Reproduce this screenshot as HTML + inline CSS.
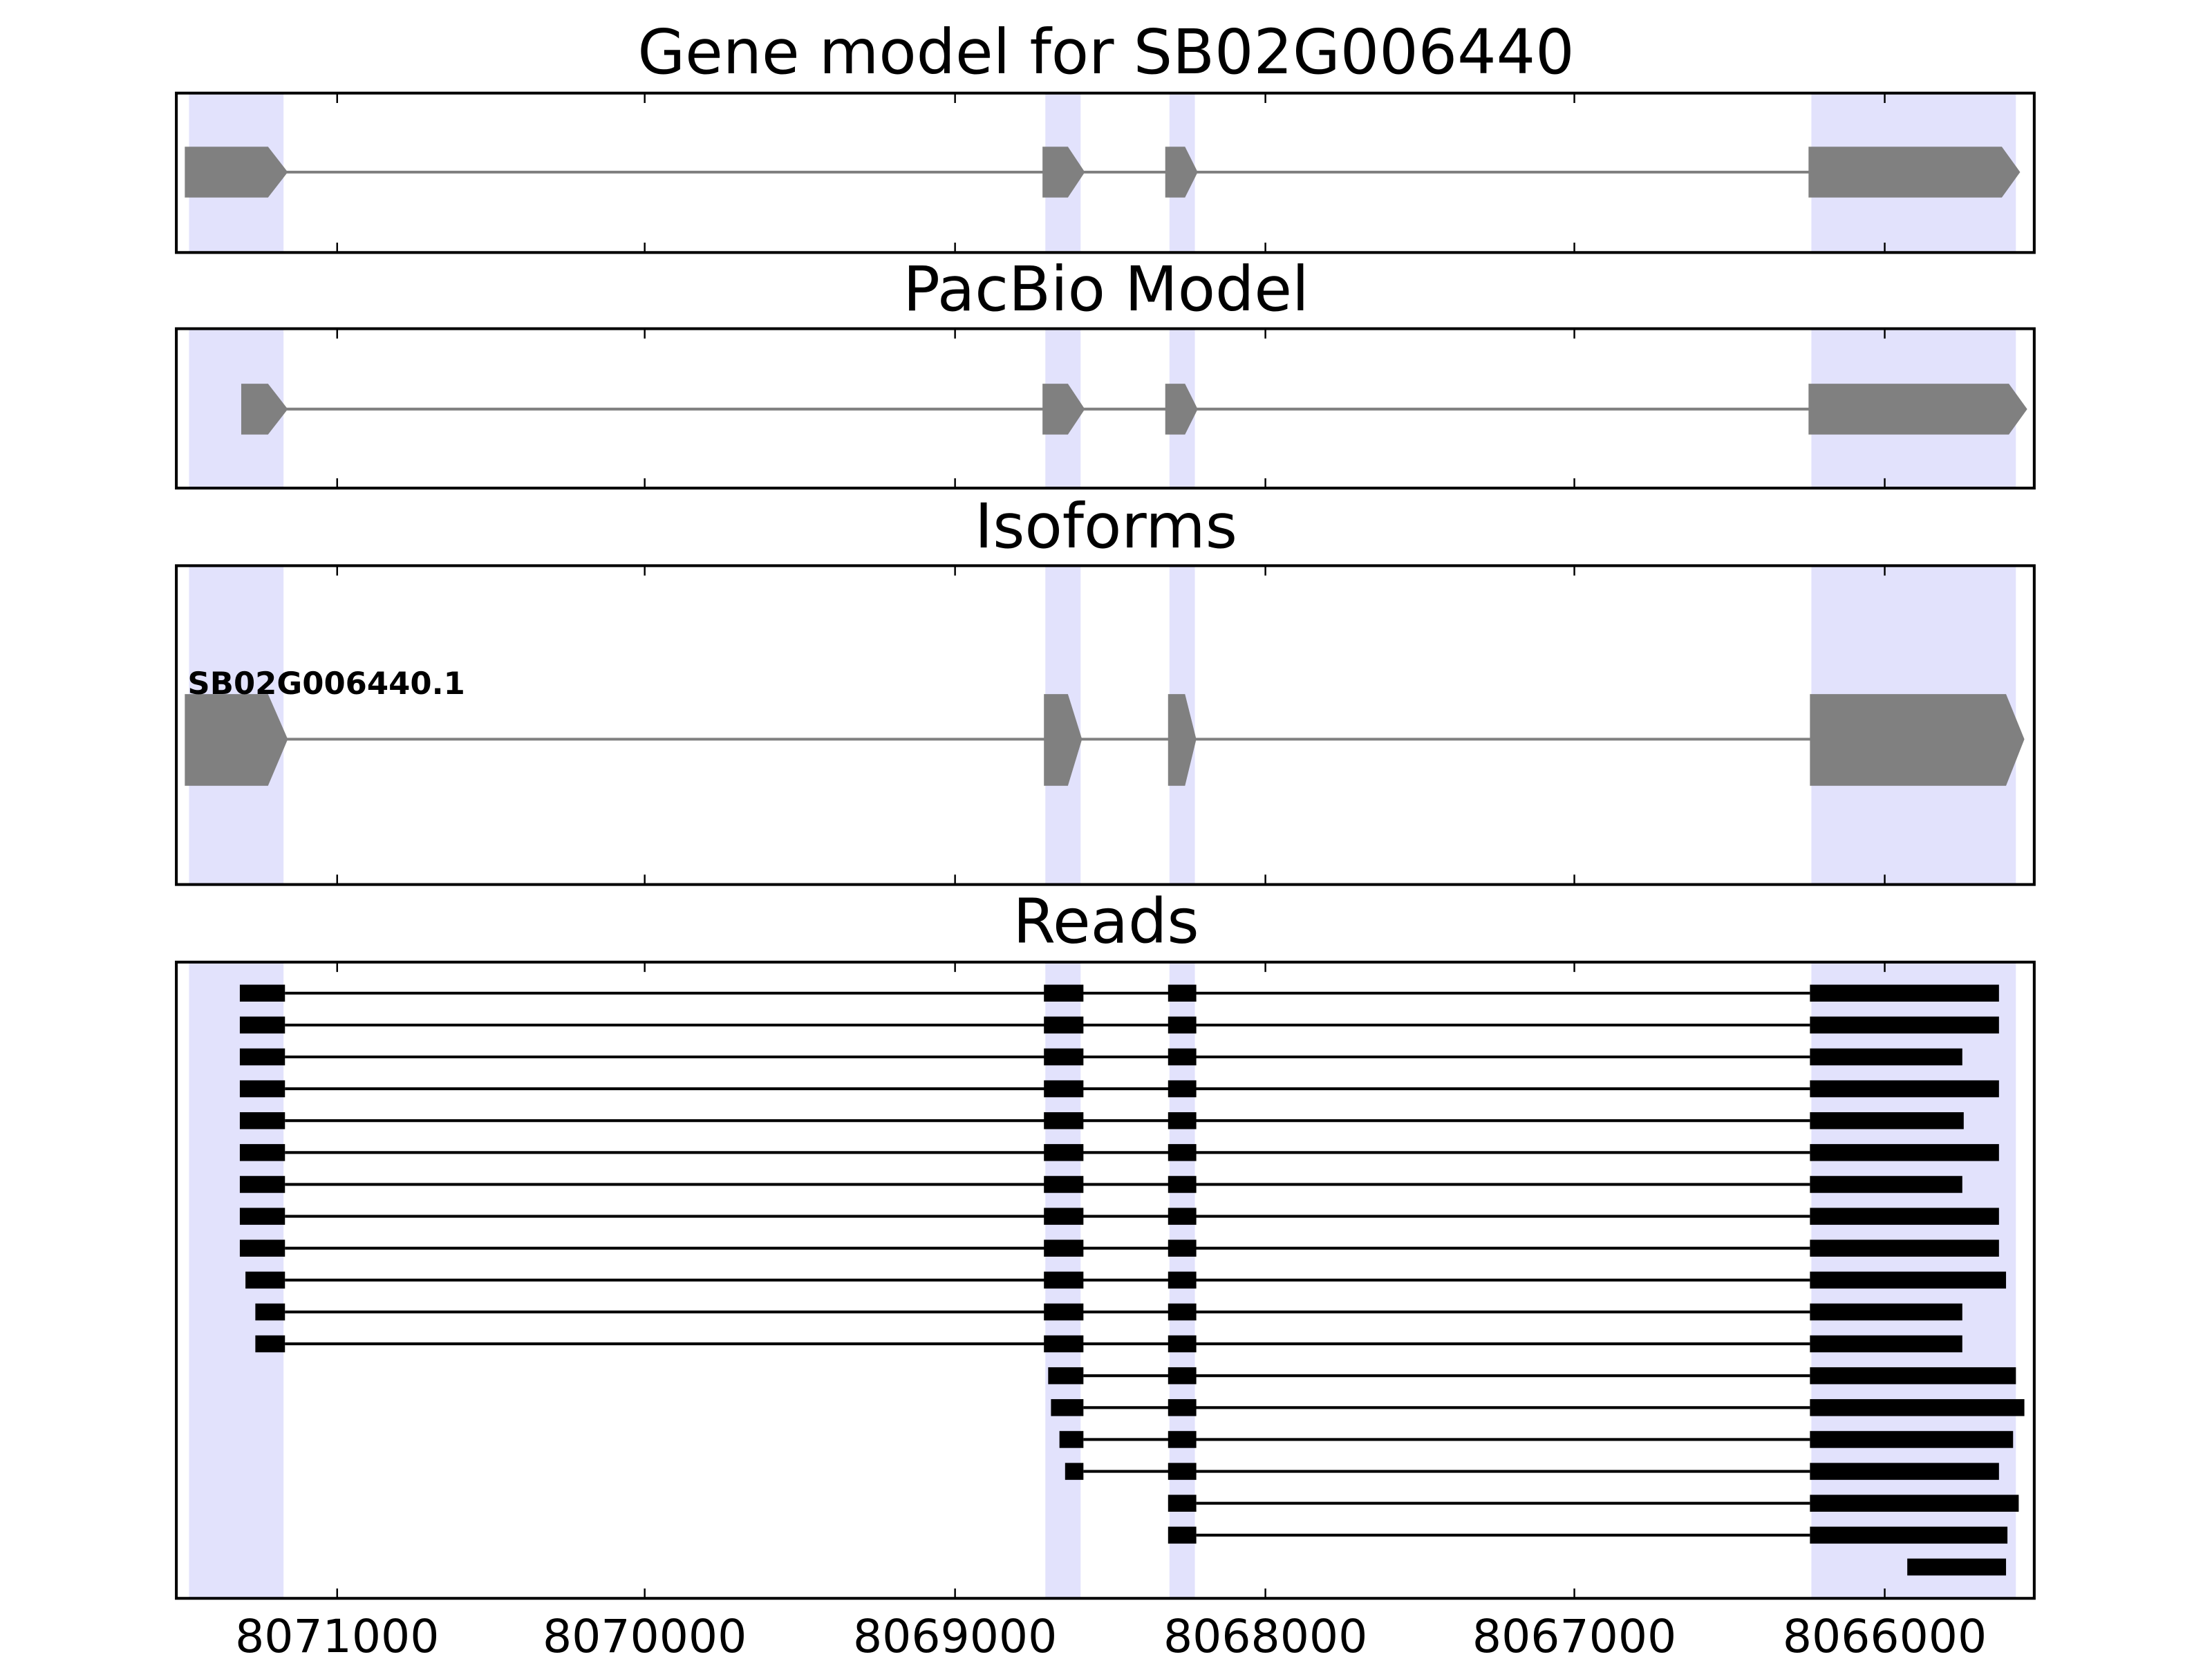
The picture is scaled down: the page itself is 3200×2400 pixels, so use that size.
<!DOCTYPE html>
<html><head><meta charset="utf-8"><style>
html,body{margin:0;padding:0;background:#fff;}
svg{display:block;}
text{font-family:"DejaVu Sans","Liberation Sans",sans-serif;}
</style></head><body>
<svg xmlns="http://www.w3.org/2000/svg" width="3200" height="2400" viewBox="0 0 1568 1176">
<rect width="1568" height="1176" fill="#fff"/>
<g fill="#e2e2fc">
<rect x="134" y="66" width="67" height="113"/><rect x="741" y="66" width="25" height="113"/><rect x="829" y="66" width="18" height="113"/><rect x="1284" y="66" width="145" height="113"/>
<rect x="134" y="233" width="67" height="113"/><rect x="741" y="233" width="25" height="113"/><rect x="829" y="233" width="18" height="113"/><rect x="1284" y="233" width="145" height="113"/>
<rect x="134" y="401" width="67" height="226"/><rect x="741" y="401" width="25" height="226"/><rect x="829" y="401" width="18" height="226"/><rect x="1284" y="401" width="145" height="226"/>
<rect x="134" y="682" width="67" height="451"/><rect x="741" y="682" width="25" height="451"/><rect x="829" y="682" width="18" height="451"/><rect x="1284" y="682" width="145" height="451"/>
</g>
<g font-size="43.5" text-anchor="middle" fill="#000">
<text x="784" y="52">Gene model for SB02G006440</text>
<text x="784" y="220">PacBio Model</text>
<text x="784" y="388">Isoforms</text>
<text x="784" y="668">Reads</text>
</g>
<g fill="#808080">
<line x1="200" y1="122" x2="1285" y2="122" stroke="#808080" stroke-width="2"/>
<polygon points="131,104 190,104 204,122 190,140 131,140"/>
<polygon points="739,104 757,104 769,122 757,140 739,140"/>
<polygon points="826,104 840,104 849,122 840,140 826,140"/>
<polygon points="1282,104 1419,104 1432,122 1419,140 1282,140"/>
</g>
<g fill="#808080">
<line x1="200" y1="290" x2="1285" y2="290" stroke="#808080" stroke-width="2"/>
<polygon points="171,272 190,272 204,290 190,308 171,308"/>
<polygon points="739,272 757,272 769,290 757,308 739,308"/>
<polygon points="826,272 840,272 849,290 840,308 826,308"/>
<polygon points="1282,272 1424,272 1437,290 1424,308 1282,308"/>
</g>
<g fill="#808080">
<line x1="200" y1="524" x2="1285" y2="524" stroke="#808080" stroke-width="2"/>
<polygon points="131,492 190,492 204,524 190,557 131,557"/>
<polygon points="740,492 757,492 767,524 757,557 740,557"/>
<polygon points="828,492 840,492 848,524 840,557 828,557"/>
<polygon points="1283,492 1422,492 1435,524 1422,557 1283,557"/>
</g>
<text x="133" y="492" font-size="22" font-weight="bold" fill="#000">SB02G006440.1</text>
<g fill="#000">
<line x1="202" y1="704" x2="1283" y2="704" stroke="#000" stroke-width="2"/><rect x="170" y="698" width="32" height="12"/><rect x="740" y="698" width="28" height="12"/><rect x="828" y="698" width="20" height="12"/><rect x="1283" y="698" width="134" height="12"/>
<line x1="202" y1="726.6" x2="1283" y2="726.6" stroke="#000" stroke-width="2"/><rect x="170" y="720.6" width="32" height="12"/><rect x="740" y="720.6" width="28" height="12"/><rect x="828" y="720.6" width="20" height="12"/><rect x="1283" y="720.6" width="134" height="12"/>
<line x1="202" y1="749.2" x2="1283" y2="749.2" stroke="#000" stroke-width="2"/><rect x="170" y="743.2" width="32" height="12"/><rect x="740" y="743.2" width="28" height="12"/><rect x="828" y="743.2" width="20" height="12"/><rect x="1283" y="743.2" width="108" height="12"/>
<line x1="202" y1="771.8" x2="1283" y2="771.8" stroke="#000" stroke-width="2"/><rect x="170" y="765.8" width="32" height="12"/><rect x="740" y="765.8" width="28" height="12"/><rect x="828" y="765.8" width="20" height="12"/><rect x="1283" y="765.8" width="134" height="12"/>
<line x1="202" y1="794.4" x2="1283" y2="794.4" stroke="#000" stroke-width="2"/><rect x="170" y="788.4" width="32" height="12"/><rect x="740" y="788.4" width="28" height="12"/><rect x="828" y="788.4" width="20" height="12"/><rect x="1283" y="788.4" width="109" height="12"/>
<line x1="202" y1="817" x2="1283" y2="817" stroke="#000" stroke-width="2"/><rect x="170" y="811" width="32" height="12"/><rect x="740" y="811" width="28" height="12"/><rect x="828" y="811" width="20" height="12"/><rect x="1283" y="811" width="134" height="12"/>
<line x1="202" y1="839.6" x2="1283" y2="839.6" stroke="#000" stroke-width="2"/><rect x="170" y="833.6" width="32" height="12"/><rect x="740" y="833.6" width="28" height="12"/><rect x="828" y="833.6" width="20" height="12"/><rect x="1283" y="833.6" width="108" height="12"/>
<line x1="202" y1="862.2" x2="1283" y2="862.2" stroke="#000" stroke-width="2"/><rect x="170" y="856.2" width="32" height="12"/><rect x="740" y="856.2" width="28" height="12"/><rect x="828" y="856.2" width="20" height="12"/><rect x="1283" y="856.2" width="134" height="12"/>
<line x1="202" y1="884.8" x2="1283" y2="884.8" stroke="#000" stroke-width="2"/><rect x="170" y="878.8" width="32" height="12"/><rect x="740" y="878.8" width="28" height="12"/><rect x="828" y="878.8" width="20" height="12"/><rect x="1283" y="878.8" width="134" height="12"/>
<line x1="202" y1="907.4" x2="1283" y2="907.4" stroke="#000" stroke-width="2"/><rect x="174" y="901.4" width="28" height="12"/><rect x="740" y="901.4" width="28" height="12"/><rect x="828" y="901.4" width="20" height="12"/><rect x="1283" y="901.4" width="139" height="12"/>
<line x1="202" y1="930" x2="1283" y2="930" stroke="#000" stroke-width="2"/><rect x="181" y="924" width="21" height="12"/><rect x="740" y="924" width="28" height="12"/><rect x="828" y="924" width="20" height="12"/><rect x="1283" y="924" width="108" height="12"/>
<line x1="202" y1="952.6" x2="1283" y2="952.6" stroke="#000" stroke-width="2"/><rect x="181" y="946.6" width="21" height="12"/><rect x="740" y="946.6" width="28" height="12"/><rect x="828" y="946.6" width="20" height="12"/><rect x="1283" y="946.6" width="108" height="12"/>
<line x1="768" y1="975.2" x2="1283" y2="975.2" stroke="#000" stroke-width="2"/><rect x="743" y="969.2" width="25" height="12"/><rect x="828" y="969.2" width="20" height="12"/><rect x="1283" y="969.2" width="146" height="12"/>
<line x1="768" y1="997.8" x2="1283" y2="997.8" stroke="#000" stroke-width="2"/><rect x="745" y="991.8" width="23" height="12"/><rect x="828" y="991.8" width="20" height="12"/><rect x="1283" y="991.8" width="152" height="12"/>
<line x1="768" y1="1020.4" x2="1283" y2="1020.4" stroke="#000" stroke-width="2"/><rect x="751" y="1014.4" width="17" height="12"/><rect x="828" y="1014.4" width="20" height="12"/><rect x="1283" y="1014.4" width="144" height="12"/>
<line x1="768" y1="1043" x2="1283" y2="1043" stroke="#000" stroke-width="2"/><rect x="755" y="1037" width="13" height="12"/><rect x="828" y="1037" width="20" height="12"/><rect x="1283" y="1037" width="134" height="12"/>
<line x1="848" y1="1065.6" x2="1283" y2="1065.6" stroke="#000" stroke-width="2"/><rect x="828" y="1059.6" width="20" height="12"/><rect x="1283" y="1059.6" width="148" height="12"/>
<line x1="848" y1="1088.2" x2="1283" y2="1088.2" stroke="#000" stroke-width="2"/><rect x="828" y="1082.2" width="20" height="12"/><rect x="1283" y="1082.2" width="140" height="12"/>
<rect x="1352" y="1104.8" width="70" height="12"/>
</g>
<g fill="none" stroke="#000" stroke-width="2">
<rect x="125" y="66" width="1317" height="113"/>
<rect x="125" y="233" width="1317" height="113"/>
<rect x="125" y="401" width="1317" height="226"/>
<rect x="125" y="682" width="1317" height="451"/>
</g>
<g stroke="#000" stroke-width="1.2">
<path d="M239,66v7M457,66v7M677,66v7M897,66v7M1116,66v7M1336,66v7 M239,179v-7M457,179v-7M677,179v-7M897,179v-7M1116,179v-7M1336,179v-7"/>
<path d="M239,233v7M457,233v7M677,233v7M897,233v7M1116,233v7M1336,233v7 M239,346v-7M457,346v-7M677,346v-7M897,346v-7M1116,346v-7M1336,346v-7"/>
<path d="M239,401v7M457,401v7M677,401v7M897,401v7M1116,401v7M1336,401v7 M239,627v-7M457,627v-7M677,627v-7M897,627v-7M1116,627v-7M1336,627v-7"/>
<path d="M239,682v7M457,682v7M677,682v7M897,682v7M1116,682v7M1336,682v7 M239,1133v-7M457,1133v-7M677,1133v-7M897,1133v-7M1116,1133v-7M1336,1133v-7"/>
</g>
<g font-size="32.5" text-anchor="middle" fill="#000">
<text x="239" y="1171">8071000</text>
<text x="457" y="1171">8070000</text>
<text x="677" y="1171">8069000</text>
<text x="897" y="1171">8068000</text>
<text x="1116" y="1171">8067000</text>
<text x="1336" y="1171">8066000</text>
</g>
</svg>
</body></html>
